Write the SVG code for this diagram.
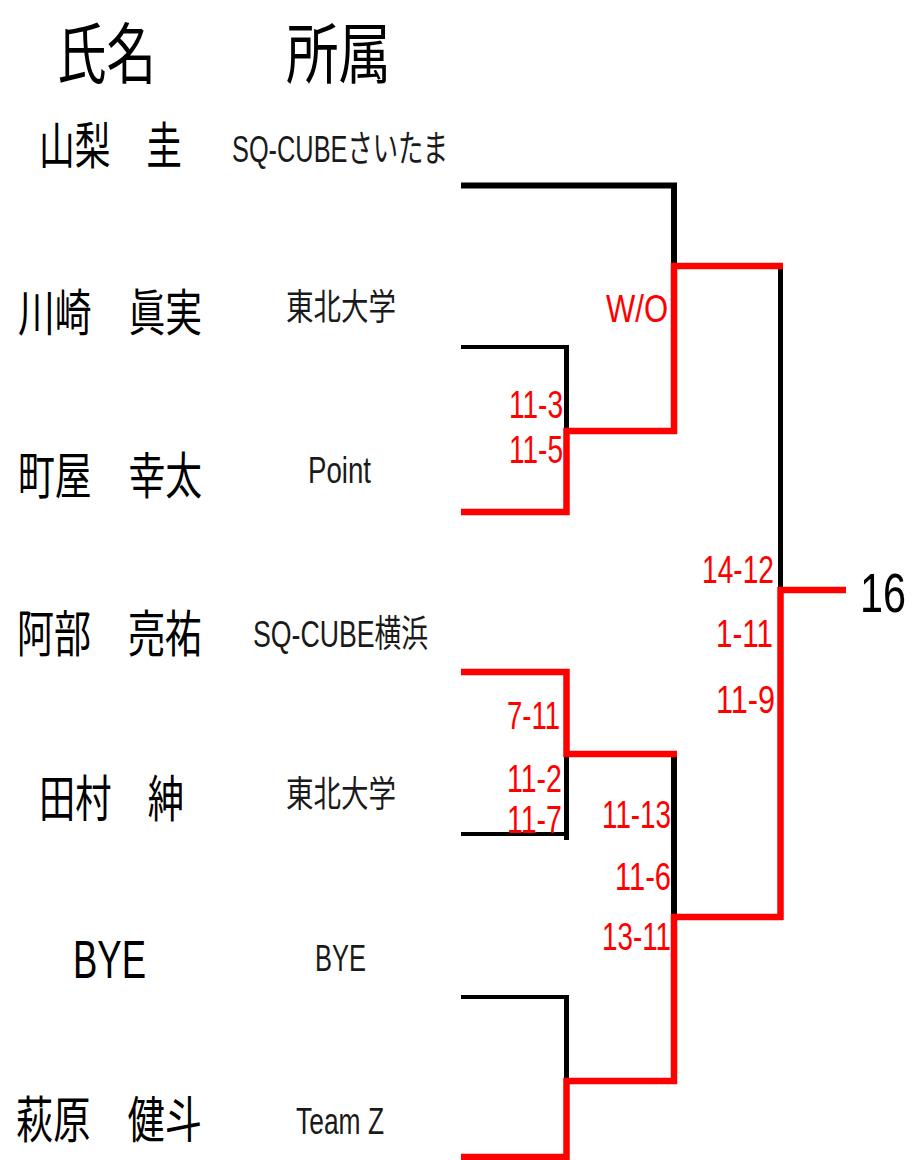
<svg xmlns="http://www.w3.org/2000/svg" width="922" height="1160" viewBox="0 0 922 1160">
<style>
.hdr{font-family:"Noto Sans CJK JP","Liberation Sans",sans-serif;font-size:66px;fill:#000}
.nm{font-family:"Noto Sans CJK JP","Liberation Sans",sans-serif;font-size:50px;fill:#000}
.nml{font-family:"Liberation Sans","Noto Sans CJK JP",sans-serif;font-size:53px;fill:#000}
.af{font-family:"Liberation Sans","Noto Sans CJK JP",sans-serif;font-size:37px;fill:#1a1a1a}
.afj{font-family:"Noto Sans CJK JP","Liberation Sans",sans-serif;font-size:36px;fill:#1a1a1a}
.sc{font-family:"Liberation Sans",sans-serif;font-size:38px;fill:#ff0000}
.res{font-family:"Liberation Sans",sans-serif;font-size:56px;fill:#000}
.bk{fill:none;stroke:#000;stroke-linejoin:miter}
.rd{fill:none;stroke:#ff0000;stroke-width:6.5;stroke-linejoin:miter}
</style>
<rect width="922" height="1160" fill="#fff"/>
<g id="header">
<text class="hdr" x="57" y="78" textLength="99" lengthAdjust="spacingAndGlyphs">氏名</text>
<text class="hdr" x="286" y="78" textLength="105" lengthAdjust="spacingAndGlyphs">所属</text>
</g>
<g id="p1"><text class="nm" x="39" y="164" textLength="143" lengthAdjust="spacingAndGlyphs">山梨　圭</text><text class="af" x="232" y="162" textLength="216" lengthAdjust="spacingAndGlyphs">SQ-CUBEさいたま</text></g>
<g id="p2"><text class="nm" x="18" y="331" textLength="184" lengthAdjust="spacingAndGlyphs">川崎　眞実</text><text class="afj" x="286" y="320" textLength="110" lengthAdjust="spacingAndGlyphs">東北大学</text></g>
<g id="p3"><text class="nm" x="18" y="494" textLength="184" lengthAdjust="spacingAndGlyphs">町屋　幸太</text><text class="af" x="308" y="483" textLength="63" lengthAdjust="spacingAndGlyphs">Point</text></g>
<g id="p4"><text class="nm" x="17" y="652" textLength="185" lengthAdjust="spacingAndGlyphs">阿部　亮祐</text><text class="af" x="253" y="647" textLength="175" lengthAdjust="spacingAndGlyphs">SQ-CUBE横浜</text></g>
<g id="p5"><text class="nm" x="39" y="817" textLength="145" lengthAdjust="spacingAndGlyphs">田村　紳</text><text class="afj" x="286" y="807" textLength="110" lengthAdjust="spacingAndGlyphs">東北大学</text></g>
<g id="p6"><text class="nml" x="73" y="978" textLength="73" lengthAdjust="spacingAndGlyphs">BYE</text><text class="af" x="315" y="971" textLength="51" lengthAdjust="spacingAndGlyphs">BYE</text></g>
<g id="p7"><text class="nm" x="16" y="1138" textLength="186" lengthAdjust="spacingAndGlyphs">萩原　健斗</text><text class="af" x="296" y="1134" textLength="88" lengthAdjust="spacingAndGlyphs">Team Z</text></g>
<g id="connectors">
<path class="bk" stroke-width="6" d="M461,185.5 H674 V268"/>
<path class="bk" stroke-width="4" d="M461,347 H568.5"/>
<path class="bk" stroke-width="5" d="M566.5,345 V431"/>
<path class="bk" stroke-width="4" d="M461,834 H568.5"/>
<path class="bk" stroke-width="5" d="M566.5,754 V840"/>
<path class="bk" stroke-width="6" d="M674,754 V917"/>
<path class="bk" stroke-width="4" d="M461,997 H568.5"/>
<path class="bk" stroke-width="5" d="M566.5,995 V1081"/>
<path class="bk" stroke-width="5" d="M780.5,266 V590"/>
<path class="rd" d="M461,512 H566.5 V431 H674 V266 H783"/>
<path class="rd" d="M461,672 H566.5 V754 H677"/>
<path class="rd" d="M461,1157 H566.5 V1081 H674 V917 H783"/>
<path class="rd" d="M780.5,587 V920"/>
<path class="rd" d="M780.5,590 H846"/>
</g>
<g id="scores">
<text class="sc" x="606" y="322" textLength="62" lengthAdjust="spacingAndGlyphs">W/O</text>
<text class="sc" x="509" y="418" textLength="54" lengthAdjust="spacingAndGlyphs">11-3</text>
<text class="sc" x="509" y="463" textLength="54" lengthAdjust="spacingAndGlyphs">11-5</text>
<text class="sc" x="702" y="583" textLength="72" lengthAdjust="spacingAndGlyphs">14-12</text>
<text class="sc" x="716" y="647" textLength="57" lengthAdjust="spacingAndGlyphs">1-11</text>
<text class="sc" x="716" y="713" textLength="59" lengthAdjust="spacingAndGlyphs">11-9</text>
<text class="sc" x="507" y="729" textLength="53" lengthAdjust="spacingAndGlyphs">7-11</text>
<text class="sc" x="507" y="792" textLength="55" lengthAdjust="spacingAndGlyphs">11-2</text>
<text class="sc" x="507" y="833" textLength="55" lengthAdjust="spacingAndGlyphs">11-7</text>
<text class="sc" x="602" y="828" textLength="69" lengthAdjust="spacingAndGlyphs">11-13</text>
<text class="sc" x="615" y="890" textLength="56" lengthAdjust="spacingAndGlyphs">11-6</text>
<text class="sc" x="602" y="950" textLength="69" lengthAdjust="spacingAndGlyphs">13-11</text>
</g>
<g id="result"><text class="res" x="860" y="612" textLength="46" lengthAdjust="spacingAndGlyphs">16</text></g>
</svg>
